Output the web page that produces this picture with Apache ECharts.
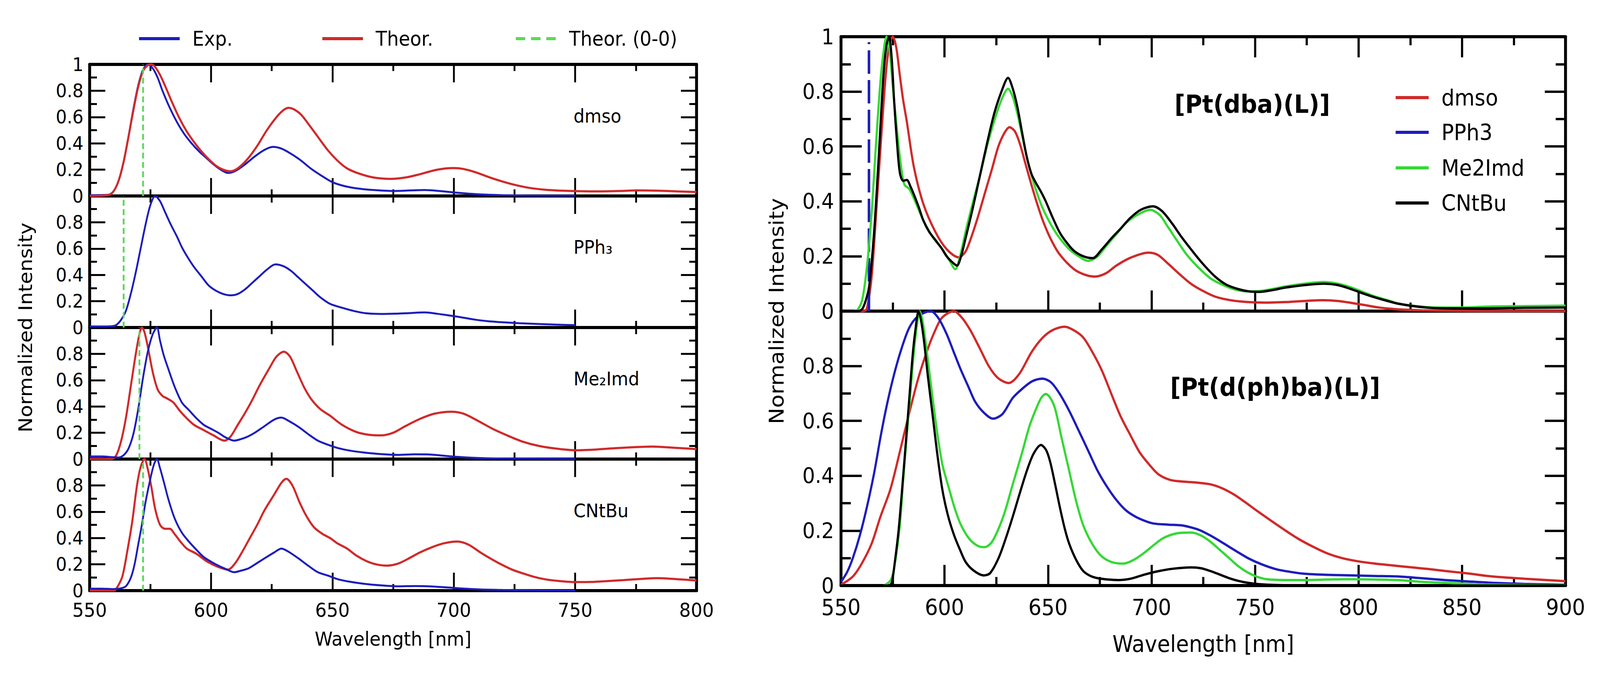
<!DOCTYPE html>
<html>
<head>
<meta charset="utf-8">
<title>Normalized emission spectra</title>
<script src="https://cdn.jsdelivr.net/npm/echarts@6/dist/echarts.min.js"></script>
<style>
  html, body { margin: 0; padding: 0; background: #fff; overflow: hidden; }
  #main { width: 4408px; height: 1724px; transform-origin: 0 0; }
</style>
</head>
<body>
<div id="main"></div>
<script>
// values: [wavelength nm, normalized intensity]

// left panel, Exp. vs Theor. for each ligand
const dmsoExp = [[550,0.006],[555,0.007],[558,0.01],[560,0.04],[562,0.12],[564,0.26],[566,0.45],[568,0.66],[570,0.84],[572,0.96],[574,1.0],[576,0.97],[578,0.9],[580,0.8],[583,0.67],[586,0.56],[589,0.47],[592,0.4],[595,0.34],[598,0.29],[601,0.24],[604,0.2],[607,0.175],[610,0.19],[614,0.24],[618,0.3],[622,0.35],[625.5,0.373],[629,0.36],[633,0.32],[637,0.27],[641,0.21],[645,0.16],[650,0.105],[655,0.075],[660,0.058],[667,0.045],[675,0.038],[682,0.042],[688,0.045],[694,0.038],[700,0.027],[706,0.018],[712,0.011],[720,0.006],[730,0.003],[750,0.002]];
const dmsoTheor = [[550,0],[558,0.008],[560,0.04],[562,0.12],[564,0.26],[566,0.45],[568,0.65],[570,0.83],[572,0.95],[574,0.995],[575.5,1.0],[577,0.98],[579,0.92],[581,0.84],[584,0.71],[587,0.59],[590,0.49],[593,0.41],[596,0.34],[599,0.28],[602,0.23],[605,0.2],[608,0.188],[611,0.21],[615,0.28],[619,0.38],[623,0.5],[627,0.6],[630,0.655],[632,0.67],[634,0.66],[637,0.62],[640,0.55],[644,0.45],[648,0.35],[652,0.27],[656,0.21],[661,0.17],[667,0.14],[674,0.13],[680,0.14],[686,0.165],[692,0.195],[697,0.21],[700,0.212],[704,0.205],[709,0.18],[715,0.14],[720,0.11],[725,0.085],[731,0.062],[738,0.047],[745,0.04],[752,0.036],[760,0.035],[768,0.038],[776,0.042],[784,0.04],[792,0.035],[800,0.03]];
const pph3Exp = [[550,0.008],[555,0.008],[559,0.01],[561,0.02],[563,0.06],[565,0.13],[567,0.26],[569,0.42],[571,0.6],[573,0.78],[575,0.93],[577,1.0],[579,0.96],[581,0.88],[583.5,0.78],[586,0.69],[588,0.61],[590.5,0.53],[593,0.46],[596,0.39],[599,0.32],[602,0.28],[605,0.255],[608,0.245],[611,0.255],[614,0.29],[617,0.34],[620,0.39],[623,0.44],[626.5,0.48],[630,0.465],[633,0.43],[636,0.38],[639,0.33],[642,0.28],[645,0.23],[649,0.18],[654,0.15],[659,0.125],[664,0.108],[670,0.103],[676,0.105],[682,0.11],[688,0.115],[693,0.105],[698,0.092],[703,0.078],[708,0.062],[714,0.048],[720,0.04],[727,0.033],[735,0.027],[742,0.022],[750,0.018]];
const me2imdExp = [[550,0.02],[555,0.02],[559,0.015],[562,0.012],[564,0.03],[566,0.08],[568,0.19],[570,0.38],[572,0.62],[574,0.82],[576,0.95],[577.7,1.0],[579,0.9],[580.5,0.79],[582.5,0.68],[585,0.55],[588,0.43],[591,0.37],[594,0.31],[597,0.26],[600,0.23],[603,0.2],[606,0.165],[609.5,0.14],[612,0.15],[615,0.17],[618,0.2],[622,0.25],[626,0.3],[629,0.315],[632,0.29],[636,0.245],[640,0.19],[644,0.14],[648,0.11],[652,0.085],[657,0.065],[663,0.05],[670,0.038],[677,0.032],[684,0.036],[690,0.035],[696,0.025],[702,0.016],[710,0.008],[720,0.004],[735,0.002],[750,0.001]];
const me2imdTheor = [[550,0],[559,0],[561,0.03],[563,0.14],[565,0.32],[567,0.56],[569,0.8],[570.5,0.95],[571.5,1.0],[572.5,0.97],[574,0.85],[576,0.66],[578,0.53],[580,0.48],[582,0.46],[584.5,0.43],[587,0.37],[590,0.31],[593,0.26],[597,0.22],[601,0.18],[605.5,0.14],[608,0.17],[611,0.26],[614,0.35],[617,0.45],[620,0.56],[624,0.69],[627,0.78],[630,0.816],[632.5,0.78],[635.5,0.66],[638.5,0.54],[641.5,0.45],[645,0.38],[649,0.33],[654,0.26],[660,0.205],[665,0.185],[670,0.18],[675,0.2],[680,0.25],[686,0.305],[692,0.345],[699,0.36],[704,0.345],[710,0.29],[716,0.23],[722,0.18],[728,0.135],[735,0.1],[742,0.08],[750,0.067],[758,0.072],[766,0.082],[775,0.091],[782,0.095],[790,0.087],[800,0.076]];
const cntbuExp = [[550,0.015],[555,0.015],[560,0.012],[563,0.018],[565,0.035],[567,0.1],[568.5,0.2],[570,0.35],[571.5,0.5],[573,0.67],[575,0.85],[576.5,0.96],[577.7,1.0],[579,0.93],[580.5,0.83],[582.5,0.69],[585,0.55],[588,0.44],[591,0.37],[594,0.31],[597,0.255],[600,0.22],[603,0.19],[606,0.165],[609.5,0.14],[612,0.15],[615.5,0.17],[619,0.21],[622,0.245],[626,0.29],[629,0.32],[632,0.295],[636,0.245],[640,0.19],[644,0.14],[648,0.115],[652,0.088],[657,0.068],[663,0.052],[670,0.04],[677,0.033],[684,0.035],[690,0.033],[696,0.026],[702,0.018],[710,0.01],[720,0.005],[735,0.002],[750,0.001]];
const cntbuTheor = [[550,0],[560,0],[561.5,0.03],[563.5,0.11],[565.5,0.3],[567.5,0.52],[569.5,0.8],[571,0.94],[572.6,1.0],[574,0.92],[575.5,0.78],[577,0.62],[579,0.5],[581,0.47],[583,0.47],[585,0.43],[587.5,0.37],[590,0.32],[594,0.28],[598.5,0.22],[603,0.18],[607,0.16],[610,0.21],[613,0.3],[616,0.4],[619,0.5],[622,0.61],[626,0.73],[629,0.82],[631,0.85],[633.5,0.8],[636.5,0.67],[639.5,0.56],[642.5,0.48],[646,0.43],[649,0.4],[652,0.36],[656,0.32],[660,0.265],[664,0.225],[668,0.2],[672.5,0.19],[677,0.205],[681,0.24],[686,0.29],[691,0.33],[696,0.36],[701.5,0.373],[706,0.35],[711,0.29],[716,0.235],[720,0.195],[724,0.16],[728,0.134],[733,0.105],[738,0.085],[744,0.072],[750,0.065],[756,0.066],[762,0.071],[770,0.08],[778,0.09],[784,0.095],[792,0.087],[800,0.077]];
// theoretical 0-0 transition per ligand (dmso, PPh3, Me2Imd, CNtBu)
const zeroZero = [572, 564, 570.5, 572];

// right panel top, [Pt(dba)(L)]
const dbaDmso = [[550,0],[561,0],[562.5,0.01],[564.8,0.126],[567,0.36],[569.3,0.62],[571.6,0.86],[573.3,0.97],[575,1.0],[576.7,0.96],[578.4,0.86],[580,0.77],[581.8,0.69],[585.2,0.525],[589.8,0.39],[595.5,0.29],[601,0.226],[606.8,0.196],[610,0.215],[612.5,0.26],[616,0.34],[619.3,0.425],[623,0.52],[626,0.6],[629,0.65],[631.4,0.67],[634,0.655],[636.4,0.61],[639,0.54],[642,0.46],[644.8,0.39],[647.7,0.326],[651.5,0.26],[655.7,0.206],[662.5,0.153],[668,0.132],[672.7,0.126],[678,0.138],[683,0.166],[690,0.195],[698.4,0.213],[703,0.205],[708,0.173],[713.5,0.135],[719,0.1],[725,0.073],[730.7,0.053],[738,0.04],[746.6,0.033],[755,0.031],[764.8,0.033],[774,0.037],[783,0.04],[790,0.037],[796.6,0.03],[803,0.022],[810,0.013],[820,0.006],[830,0.003],[845,0.001],[860,0],[900,0]];
const dbaPPh3 = 563.5;
const dbaMe2Imd = [[550,0],[556,0],[558,0.005],[560.2,0.04],[562.5,0.16],[564.8,0.36],[567,0.62],[569.3,0.86],[571,0.97],[572,1.0],[573.3,0.96],[575,0.82],[576.5,0.7],[578,0.59],[579.5,0.5],[580.7,0.46],[583,0.445],[586.4,0.39],[589.8,0.33],[594.3,0.27],[598.9,0.226],[602,0.19],[605.2,0.153],[607.5,0.2],[610.2,0.29],[613.5,0.39],[617,0.49],[620.5,0.6],[623.9,0.69],[627.5,0.77],[630.7,0.81],[633,0.78],[635.2,0.72],[637.5,0.64],[639.8,0.56],[643,0.47],[646.6,0.39],[650,0.335],[653.4,0.29],[656.8,0.255],[660.2,0.226],[664.8,0.2],[669.3,0.183],[674,0.2],[678.4,0.24],[683,0.28],[687.5,0.32],[693,0.35],[699.3,0.369],[704,0.35],[708,0.306],[712.5,0.255],[717,0.206],[722.5,0.16],[728.4,0.12],[734,0.097],[739.8,0.08],[746,0.072],[752,0.073],[758,0.08],[764.8,0.09],[774,0.1],[783,0.106],[790,0.1],[796.6,0.086],[802,0.07],[808,0.053],[814,0.04],[819.3,0.027],[828,0.018],[837.5,0.013],[850,0.013],[864.8,0.017],[880,0.018],[900,0.02]];
const dbaCNtBu = [[550,0],[558,0],[560.2,0.007],[562,0.04],[563.6,0.09],[566,0.29],[568.2,0.56],[570.5,0.86],[572,0.97],[573.2,1.0],[574.5,0.92],[575.7,0.76],[577,0.62],[578.4,0.505],[580,0.475],[581.8,0.478],[583.5,0.455],[585.2,0.425],[587.5,0.38],[589.8,0.33],[592.5,0.29],[595.5,0.26],[598.5,0.23],[601,0.2],[603.5,0.18],[606,0.166],[608,0.2],[610,0.26],[613.5,0.37],[617,0.49],[620.5,0.61],[624,0.72],[627.5,0.8],[630.7,0.85],[633,0.81],[635.2,0.744],[637.5,0.65],[639.8,0.56],[642,0.5],[644.3,0.465],[646.6,0.435],[648.9,0.4],[652,0.345],[655.7,0.286],[659,0.25],[662.5,0.22],[667,0.2],[671.6,0.193],[676,0.225],[680.7,0.266],[685,0.3],[689.8,0.34],[695,0.37],[700.7,0.382],[705,0.365],[710,0.319],[714.5,0.27],[719,0.226],[724.5,0.175],[730.7,0.126],[736,0.097],[742,0.08],[747,0.072],[752,0.07],[758,0.076],[764.8,0.086],[774,0.095],[783,0.1],[790,0.095],[796.6,0.08],[802,0.065],[808,0.05],[814,0.037],[819.3,0.027],[830,0.015],[842,0.01],[860,0.01],[880,0.012],[900,0.013]];

// right panel bottom, [Pt(d(ph)ba)(L)]
const dphDmso = [[550,0.003],[555.7,0.033],[560,0.08],[564.8,0.153],[569,0.25],[573.9,0.352],[578.5,0.49],[583,0.63],[587.5,0.76],[592,0.864],[595.5,0.93],[598.9,0.977],[604.5,1.0],[608.5,0.975],[612.5,0.93],[617,0.865],[621.6,0.797],[626,0.755],[631,0.738],[636,0.77],[642,0.85],[647,0.9],[652,0.93],[658,0.943],[662.5,0.93],[667,0.904],[671.5,0.85],[676,0.784],[680.5,0.7],[685,0.618],[690,0.545],[694.3,0.485],[699,0.44],[703.4,0.405],[709,0.385],[714.8,0.379],[721,0.376],[728.4,0.369],[734,0.355],[739.8,0.332],[745,0.305],[751,0.272],[758,0.235],[764.8,0.2],[771,0.17],[778.4,0.14],[785,0.117],[792,0.1],[800,0.088],[808,0.08],[817,0.073],[826,0.066],[834,0.06],[842,0.053],[853,0.044],[864.8,0.033],[880,0.025],[900,0.016]];
const dphPPh3 = [[550,0.013],[553,0.05],[555.7,0.1],[559,0.18],[562.5,0.286],[566,0.41],[569.3,0.55],[572.5,0.67],[576,0.78],[579.5,0.87],[583,0.94],[587,0.98],[593.2,1.0],[597,0.975],[601,0.917],[604.5,0.85],[608,0.784],[611.5,0.725],[614.8,0.67],[619,0.63],[623.4,0.608],[628,0.625],[633,0.684],[638,0.72],[642.5,0.745],[647.3,0.754],[651.5,0.74],[655.7,0.698],[660,0.64],[664.8,0.565],[669.5,0.49],[673.9,0.419],[678.5,0.36],[683,0.312],[687.5,0.275],[692,0.252],[697,0.235],[701,0.226],[708,0.222],[714.8,0.219],[720,0.21],[723.9,0.2],[729,0.18],[735,0.153],[741,0.125],[746.6,0.1],[753,0.078],[760,0.06],[767,0.05],[773.9,0.043],[785,0.039],[796.6,0.037],[808,0.035],[819.3,0.033],[830,0.027],[842,0.02],[853,0.015],[864.8,0.01],[880,0.006],[900,0.003]];
const dphMe2Imd = [[550,0],[570,0],[574,0.02],[576,0.08],[578.4,0.22],[580,0.38],[581.8,0.55],[583.5,0.7],[585.2,0.85],[586.7,0.95],[588,1.0],[589.5,0.96],[592,0.82],[594.3,0.68],[596.6,0.55],[599,0.44],[602.3,0.35],[605,0.28],[608,0.22],[612,0.17],[616,0.145],[619.3,0.14],[623,0.16],[628.4,0.252],[633,0.37],[637.5,0.485],[641,0.58],[644.3,0.645],[646.8,0.685],[648.9,0.698],[651,0.685],[653.4,0.645],[656.5,0.54],[660.2,0.419],[663.5,0.31],[667,0.22],[671.5,0.15],[676,0.106],[681,0.085],[686.4,0.08],[691.5,0.094],[696.6,0.12],[701,0.147],[705.7,0.173],[712,0.19],[719.3,0.193],[724,0.182],[728.4,0.16],[733,0.13],[737.5,0.1],[742,0.07],[746.6,0.047],[751,0.032],[755.7,0.023],[765,0.02],[773.9,0.02],[785,0.022],[796.6,0.023],[808,0.022],[819.3,0.02],[830,0.014],[842,0.01],[860,0.004],[880,0.002],[900,0.001]];
const dphCNtBu = [[550,0],[573,0],[574.5,0.01],[576,0.086],[577.8,0.2],[579.5,0.35],[581.3,0.52],[583,0.684],[584.5,0.83],[585.7,0.917],[587.5,1.0],[588.8,0.96],[590.2,0.884],[592,0.76],[594.3,0.618],[596.5,0.48],[598.9,0.352],[601.5,0.26],[604.5,0.186],[607.5,0.13],[610.2,0.086],[614,0.055],[618.9,0.037],[622,0.045],[626.1,0.1],[629.5,0.17],[633,0.252],[636.5,0.34],[639.8,0.419],[643,0.48],[646.6,0.512],[649,0.495],[651,0.452],[653.4,0.37],[655.7,0.286],[658,0.21],[660.2,0.153],[663.5,0.095],[667,0.053],[670.5,0.035],[673.9,0.027],[679,0.022],[684,0.02],[690,0.025],[696.6,0.04],[703,0.052],[710,0.061],[719.3,0.066],[724,0.063],[728.4,0.053],[733,0.04],[737.5,0.027],[742,0.017],[746.6,0.01],[752,0.005],[760,0.002],[780,0],[900,0]];

const leftLabels = ['dmso', 'PPh\u2083', 'Me\u2082Imd', 'CNtBu'];
const rightLegend = ['dmso', 'PPh3', 'Me2Imd', 'CNtBu'];

const FONT = '"DejaVu Sans", "Liberation Sans", sans-serif';
const RED = '#d02a2a', BLUE = '#1d1dbd', GREEN_L = '#5ad85a', GREEN_R = '#35d835';

// grid layout: 4 stacked panels left, 2 stacked panels right
const leftTops = [165, 502, 839, 1176];
const rightTops = [94, 797];
const grids = [
  ...leftTops.map(t => ({ left: 247, top: t, width: 1672, height: 337 })),
  ...rightTops.map(t => ({ left: 2317, top: t, width: 1996, height: 703 }))
].map(g => Object.assign(g, { outerBoundsMode: 'none', containLabel: false }));

const xAxis = [], yAxis = [];
grids.forEach((g, i) => {
  const left = i < 4;
  const isBottom = left ? i === 3 : i === 5;
  const big = left ? { tick: 46, minor: 17, w: 5, font: 50, margin: 24 } : { tick: 53, minor: 22, w: 6, font: 57, margin: 28 };
  const baseX = {
    type: 'value', gridIndex: i, min: 550, max: left ? 800 : 900, interval: 50,
    axisLine: { show: true, onZero: false, lineStyle: { color: '#000', width: 8 } },
    axisTick: { show: true, inside: true, length: big.tick, lineStyle: { color: '#000', width: big.w } },
    minorTick: { show: true, splitNumber: 2, length: big.minor, lineStyle: { color: '#000', width: big.w } },
    splitLine: { show: false }, minorSplitLine: { show: false }
  };
  xAxis.push(Object.assign({}, baseX, {
    position: 'bottom',
    axisLabel: { show: isBottom, margin: big.margin, color: '#000', fontSize: big.font, fontFamily: FONT, showMinLabel: true, showMaxLabel: true }
  }));
  // lower right panel has no ticks along its top edge
  const topTicks = i !== 5;
  xAxis.push(Object.assign({}, baseX, {
    position: 'top', axisLabel: { show: false },
    axisTick: Object.assign({}, baseX.axisTick, { show: topTicks }),
    minorTick: Object.assign({}, baseX.minorTick, { show: topTicks })
  }));

  const ybig = left ? { tick: 43, minor: 20, w: 5, font: 48, margin: 17 } : { tick: 57, minor: 27, w: 6, font: 55, margin: 19 };
  const showOne = i === 0 || i === 4;
  const baseY = {
    type: 'value', gridIndex: i, min: 0, max: 1, interval: 0.2,
    axisLine: { show: true, onZero: false, lineStyle: { color: '#000', width: 8 } },
    axisTick: { show: true, inside: true, length: ybig.tick, lineStyle: { color: '#000', width: ybig.w } },
    minorTick: { show: true, splitNumber: 2, length: ybig.minor, lineStyle: { color: '#000', width: ybig.w } },
    splitLine: { show: false }, minorSplitLine: { show: false }
  };
  yAxis.push(Object.assign({}, baseY, {
    position: 'left',
    axisLabel: {
      show: true, margin: ybig.margin, color: '#000', fontSize: ybig.font, fontFamily: FONT,
      showMinLabel: true, showMaxLabel: true,
      formatter: v => {
        if (Math.abs(v - 1) < 1e-6) return showOne ? '1' : '';
        if (Math.abs(v) < 1e-6) return '0';
        return v.toFixed(1);
      }
    }
  }));
  yAxis.push(Object.assign({}, baseY, { position: 'right', axisLabel: { show: false } }));
});

function curve(name, data, grid, color, width, extra) {
  return Object.assign({
    name, type: 'line', data, xAxisIndex: grid * 2, yAxisIndex: grid * 2,
    symbol: 'none', showSymbol: false, smooth: 0.3, silent: true, animation: false,
    lineStyle: { color, width }, itemStyle: { color }
  }, extra || {});
}
function stick(name, x, top, grid, color, width, dash) {
  return curve(name, [[x, 0], [x, top]], grid, color, width, { smooth: false, lineStyle: { color, width, type: dash } });
}

const series = [
  curve('Exp.', dmsoExp, 0, BLUE, 5),
  curve('Theor.', dmsoTheor, 0, RED, 5.5),
  curve('Exp.', pph3Exp, 1, BLUE, 5),
  curve('Theor.', me2imdTheor, 2, RED, 5.5),
  curve('Exp.', me2imdExp, 2, BLUE, 5),
  curve('Theor.', cntbuTheor, 3, RED, 5.5),
  curve('Exp.', cntbuExp, 3, BLUE, 5),
  ...zeroZero.map((x, i) => stick('Theor. (0-0)', x, 1, i, GREEN_L, 5, [15, 9])),

  curve('dmso', dphDmso, 5, RED, 6),
  curve('PPh3', dphPPh3, 5, BLUE, 6),
  curve('Me2Imd', dphMe2Imd, 5, GREEN_R, 6),
  curve('CNtBu', dphCNtBu, 5, '#000', 6),
  curve('dmso', dbaDmso, 4, RED, 6),
  stick('PPh3', dbaPPh3, 0.98, 4, BLUE, 7, [60, 16]),
  curve('Me2Imd', dbaMe2Imd, 4, GREEN_R, 6),
  curve('CNtBu', dbaCNtBu, 4, '#000', 6)
];

function legendItem(name, left, centerY, width, font) {
  return {
    data: [name], left, top: centerY - font / 2, padding: 0, orient: 'horizontal',
    itemWidth: width, itemHeight: 14, selectedMode: false,
    itemStyle: { opacity: 0 },
    lineStyle: { width: 8, type: name === 'Theor. (0-0)' ? [26, 16] : 'solid' },
    textStyle: { color: '#000', fontSize: font, fontFamily: FONT, padding: [0, 0, 0, 30] }
  };
}
const legend = [
  legendItem('Exp.', 379, 99, 112, 51),
  legendItem('Theor.', 884, 99, 112, 51),
  legendItem('Theor. (0-0)', 1417, 99, 112, 51),
  ...rightLegend.map((n, i) => legendItem(n, 3841, [250, 339, 430, 520][i], 91, 57))
];

function text(str, x, y, size, opts) {
  opts = opts || {};
  return {
    type: 'text', x, y, rotation: opts.rotation || 0, silent: true,
    style: {
      text: str, fill: '#000',
      font: (opts.bold ? 'bold ' : '') + size + 'px ' + FONT,
      align: opts.align || 'left', verticalAlign: 'middle',
      textAlign: opts.align || 'left', textVerticalAlign: 'middle'
    }
  };
}
const graphic = [
  text('Normalized Intensity', 70, 839, 52, { rotation: Math.PI / 2, align: 'center' }),
  text('Normalized Intensity', 2140, 797, 56, { rotation: Math.PI / 2, align: 'center' }),
  text('Wavelength [nm]', 1083, 1636, 50, { align: 'center' }),
  text('Wavelength [nm]', 3315, 1650, 58, { align: 'center' }),
  ...leftLabels.map((s, i) => text(s, 1580, [297, 633, 970, 1308][i], 48)),
  text('[Pt(dba)(L)]', 3450, 267, 64, { bold: true, align: 'center' }),
  text('[Pt(d(ph)ba)(L)]', 3513, 992, 64, { bold: true, align: 'center' })
];

const option = {
  backgroundColor: '#fff',
  animation: false,
  grid: grids,
  xAxis,
  yAxis,
  legend,
  graphic,
  series
};

window.addEventListener('DOMContentLoaded', () => {
  const el = document.getElementById('main');
  // the drawing is laid out at 4408x1724; fit it into the viewport we actually get
  const sx = window.innerWidth / 4408, sy = window.innerHeight / 1724;
  el.style.transform = `scale(${sx}, ${sy})`;
  const chart = echarts.init(el, null, { renderer: 'svg' });
  chart.setOption(option);
});
</script>
</body>
</html>
